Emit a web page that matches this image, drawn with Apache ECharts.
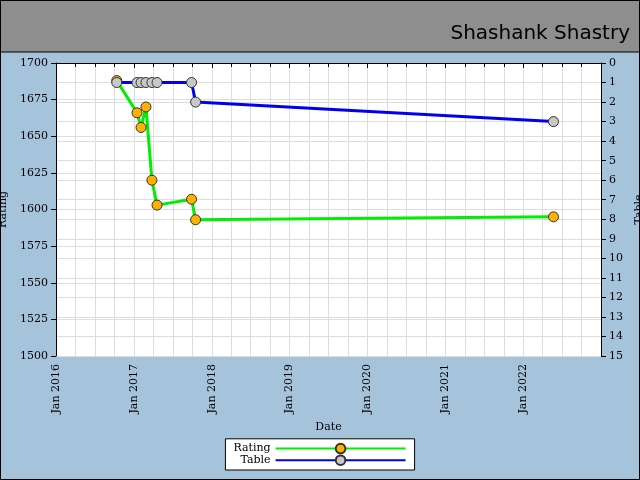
<!DOCTYPE html>
<html><head><meta charset="utf-8">
<script src="https://cdn.jsdelivr.net/npm/echarts@6/dist/echarts.min.js"></script>
<style>body{margin:0}#c{width:640px;height:480px}</style></head>
<body><div id="c"></div>
<script>
const dates = ['2016-10-12','2017-01-15','2017-02-03','2017-02-26','2017-03-26','2017-04-19','2017-09-28','2017-10-17','2022-05-23'];
const ratingValues = [1688,1666,1656,1670,1620,1603,1607,1593,1595];
const tableValues = [1,1,1,1,1,1,1,2,3];
const titleText = 'Shashank Shastry';
const F = 'DejaVu Serif';
const chart = echarts.init(document.getElementById('c'));
chart.setOption({
  backgroundColor:'#a6c3dc',
  animation:false,
  graphic:[
    {type:'rect',shape:{x:0,y:0,width:640,height:52},style:{fill:'#8e8e8e',stroke:'#000',lineWidth:1}},
    {type:'rect',shape:{x:0.5,y:0.5,width:639,height:479},style:{fill:'none',stroke:'#000',lineWidth:1}},
    {type:'text',right:10,top:24,style:{text:titleText,font:'20px "DejaVu Sans"',fill:'#000'}}
  ],
  grid:{left:56,right:39,top:63,bottom:124,backgroundColor:'#fff',show:true,borderWidth:0,outerBoundsMode:'none',containLabel:false},
  xAxis:{type:'time',min:'2016-01-01',max:'2023-01-01',minInterval:365*864e5,maxInterval:366*864e5,
    name:'Date',nameLocation:'middle',nameGap:62,nameTextStyle:{fontFamily:F,fontSize:11,color:'#000'},
    axisLine:{lineStyle:{color:'#000'}},axisTick:{show:true,length:5,lineStyle:{color:'#000'}},
    minorTick:{show:true,splitNumber:4,length:4,lineStyle:{color:'#000'}},
    splitLine:{show:true,lineStyle:{color:'#ddd'}},minorSplitLine:{show:true,lineStyle:{color:'#ddd'}},
    axisLabel:{rotate:90,fontFamily:F,fontSize:11,color:'#000',formatter:v=>'Jan '+new Date(v).getFullYear(),hideOverlap:false}},
  yAxis:[
    {type:'value',min:1500,max:1700,interval:25,name:'Rating',nameLocation:'middle',nameGap:42,
     nameTextStyle:{fontFamily:F,fontSize:11,color:'#000'},
     axisLine:{show:true,lineStyle:{color:'#000'}},axisTick:{show:true,length:5,lineStyle:{color:'#000'}},
     splitLine:{lineStyle:{color:'#ddd'}},axisLabel:{fontFamily:F,fontSize:11,color:'#000',formatter:v=>String(v)}},
    {type:'value',min:0,max:15,interval:1,inverse:true,name:'Table',nameLocation:'middle',nameGap:24,
     nameTextStyle:{fontFamily:F,fontSize:11,color:'#000'},
     axisLine:{show:true,lineStyle:{color:'#000'}},axisTick:{show:true,length:5,lineStyle:{color:'#000'}},
     splitLine:{show:true,lineStyle:{color:'#ddd'}},axisLabel:{fontFamily:F,fontSize:11,color:'#000'}}
  ],
  legend:{bottom:10,left:'center',orient:'vertical',align:'right',itemGap:0,itemWidth:130,itemHeight:12,
    backgroundColor:'#fff',borderColor:'#000',borderWidth:1,borderRadius:0,padding:[4,8],
    textStyle:{fontFamily:F,fontSize:11,color:'#000'},data:['Rating','Table']},
  series:[
    {name:'Rating',type:'line',yAxisIndex:0,data:dates.map((d,i)=>[d,ratingValues[i]]),
     lineStyle:{color:'#00ee00',width:3},itemStyle:{color:'#ffb000',borderColor:'#333',borderWidth:1},
     symbol:'circle',symbolSize:10,z:2},
    {name:'Table',type:'line',yAxisIndex:1,data:dates.map((d,i)=>[d,tableValues[i]]),
     lineStyle:{color:'#0000ee',width:3},itemStyle:{color:'#c8c8c8',borderColor:'#333',borderWidth:1},
     symbol:'circle',symbolSize:10,z:3}
  ]
});
</script></body></html>
